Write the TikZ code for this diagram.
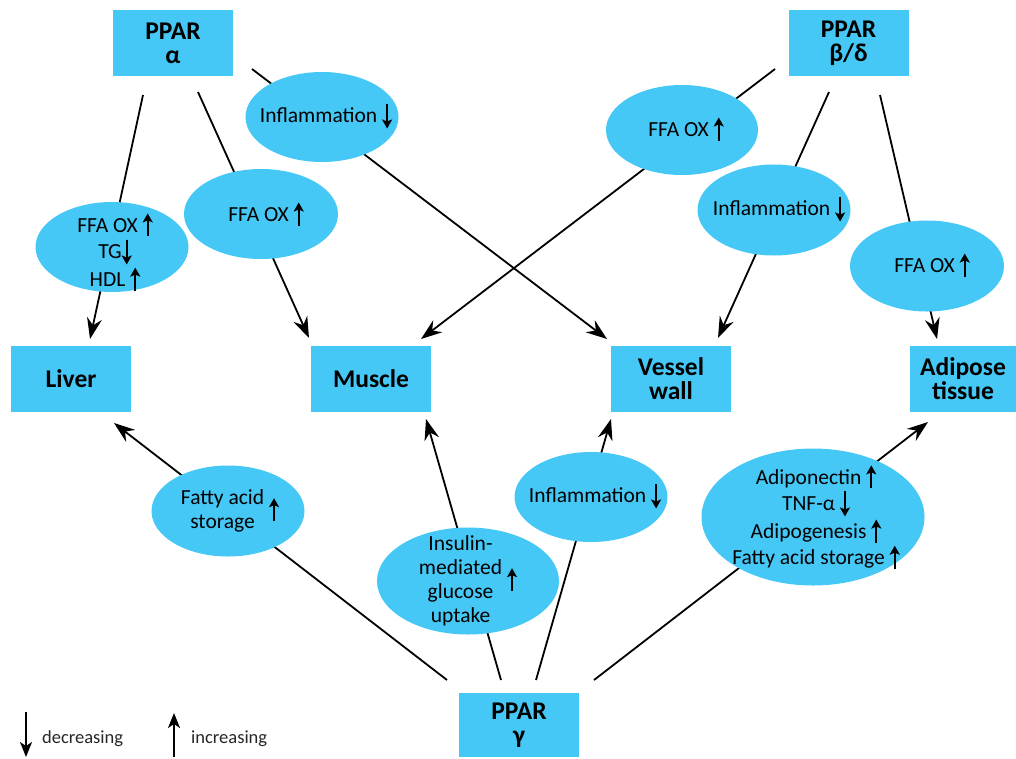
\documentclass[tikz,border=0pt]{standalone}
\usepackage{fontspec}
\setmainfont{Carlito}
\usetikzlibrary{shapes.geometric,arrows.meta}
\definecolor{boxblue}{RGB}{69,200,245}
\newcommand\incr{\tikz[baseline=0pt]\draw[line width=2.1pt,-{Stealth[length=9pt,width=10pt,inset=2pt]}](0pt,-4pt)--(0pt,19pt);}
\newcommand\decr{\tikz[baseline=0pt]\draw[line width=2.1pt,-{Stealth[length=9pt,width=10pt,inset=2pt]}](0pt,19pt)--(0pt,-6pt);}
\begin{document}
\begin{tikzpicture}[x=1pt,y=-1pt,
  box/.style={rectangle,fill=boxblue,minimum width=120pt,minimum height=66pt,inner sep=0pt,
    font=\fontsize{25.5}{24}\selectfont\bfseries,align=center},
  ell/.style={ellipse,fill=boxblue,inner sep=0pt},
  etext/.style={inner sep=0pt,font=\fontsize{21.5}{24}\selectfont,align=center},
  conn/.style={line width=1.8pt},
  arr/.style={conn,-{Stealth[length=21pt,width=15pt,inset=7pt]}},
  legarr/.style={line width=1.9pt,-{Stealth[length=15pt,width=12pt,inset=4pt]}},
  legtext/.style={anchor=base west,inner sep=0pt,font=\fontsize{18.5}{20}\selectfont,text=black!85}]
\useasboundingbox (0,0) rectangle (1016,758);
% boxes
\node[box] (pa) at (173,43) {PPAR\\α};
\node[box] (pb) at (848.5,43) {PPAR\\β/δ};
\node[box] (liver) at (71,379) {Liver};
\node[box] (muscle) at (371,379) {Muscle};
\node[box] (vessel) at (671,379) {Vessel\\wall};
\node[box,minimum width=106pt] (adipose) at (963,379) {Adipose\\tissue};
\node[box,minimum height=64pt] (pg) at (519,725) {PPAR\\γ};
% connector ends
\coordinate (a1) at (143,95);  \coordinate (l1) at (90,339);
\coordinate (a2) at (198,92);  \coordinate (m1) at (309,338);
\coordinate (a3) at (252,69);  \coordinate (v1) at (607,339);
\coordinate (b1) at (775,69);  \coordinate (m2) at (421,339);
\coordinate (b2) at (829,92);  \coordinate (v2) at (718,338);
\coordinate (b3) at (880,95);  \coordinate (t1) at (937,339);
\coordinate (g1) at (447,680); \coordinate (l2) at (114,423);
\coordinate (g2) at (501,680); \coordinate (m3) at (426,419);
\coordinate (g3) at (536,680); \coordinate (v3) at (611,419);
\coordinate (g4) at (594,680); \coordinate (t2) at (928,422);
% connectors
\draw[arr] (a1) -- (l1);
\draw[arr] (a2) -- (m1);
\draw[arr] (a3) -- (v1);
\draw[arr] (b1) -- (m2);
\draw[arr] (b2) -- (v2);
\draw[arr] (b3) -- (t1);
\draw[arr] (g1) -- (l2);
\draw[arr] (g2) -- (m3);
\draw[arr] (g3) -- (v3);
\draw[arr] (g4) -- (t2);
% ellipses
\node[ell,minimum width=153pt,minimum height=90pt] (e1) at (112,247) {};
\node[ell,minimum width=154pt,minimum height=90pt] (e2) at (261,214) {};
\node[ell,minimum width=153pt,minimum height=90pt] (e3) at (322,117) {};
\node[ell,minimum width=152pt,minimum height=90pt] (e4) at (682,130) {};
\node[ell,minimum width=153pt,minimum height=91pt] (e5) at (774,210) {};
\node[ell,minimum width=154pt,minimum height=91pt] (e6) at (927,266) {};
\node[ell,minimum width=153pt,minimum height=91pt] (e7) at (228,511) {};
\node[ell,minimum width=182pt,minimum height=107pt] (e8) at (468,581) {};
\node[ell,minimum width=153pt,minimum height=90pt] (e9) at (591,497) {};
\node[ell,minimum width=223pt,minimum height=137pt] (e10) at (813,517) {};
% ellipse texts
\node[etext] (e1t) at (115,252) {FFA OX \incr\\TG\decr\\HDL \incr};
\node[etext] (e2t) at (266,214) {FFA OX \incr};
\node[etext] (e3t) at (326,116) {Inflammation \decr};
\node[etext] (e4t) at (686,129) {FFA OX \incr};
\node[etext] (e5t) at (779,209) {Inflammation \decr};
\node[etext] (e6t) at (932,265) {FFA OX \incr};
\node[etext] (e7t) at (230,512) {\begin{tabular}{@{}c@{}}Fatty acid\\storage\end{tabular}~\incr};
\node[etext] (e8t) at (468,582) {\begin{tabular}{@{}c@{}}Insulin-\\mediated\\glucose\\uptake\end{tabular}~\incr};
\node[etext] (e9t) at (595,496) {Inflammation \decr};
\node[etext] (e10t) at (816,517) {Adiponectin \incr\\TNF-α \decr\\Adipogenesis \incr\\Fatty acid storage \incr};
% legend
\coordinate (d1) at (26,712); \coordinate (d2) at (26,757);
\draw[legarr] (d1) -- (d2);
\node[legtext] (dec) at (42,743) {decreasing};
\coordinate (i1) at (174,757); \coordinate (i2) at (174,713);
\draw[legarr] (i1) -- (i2);
\node[legtext] (inc) at (191,743) {increasing};
\end{tikzpicture}
\end{document}
